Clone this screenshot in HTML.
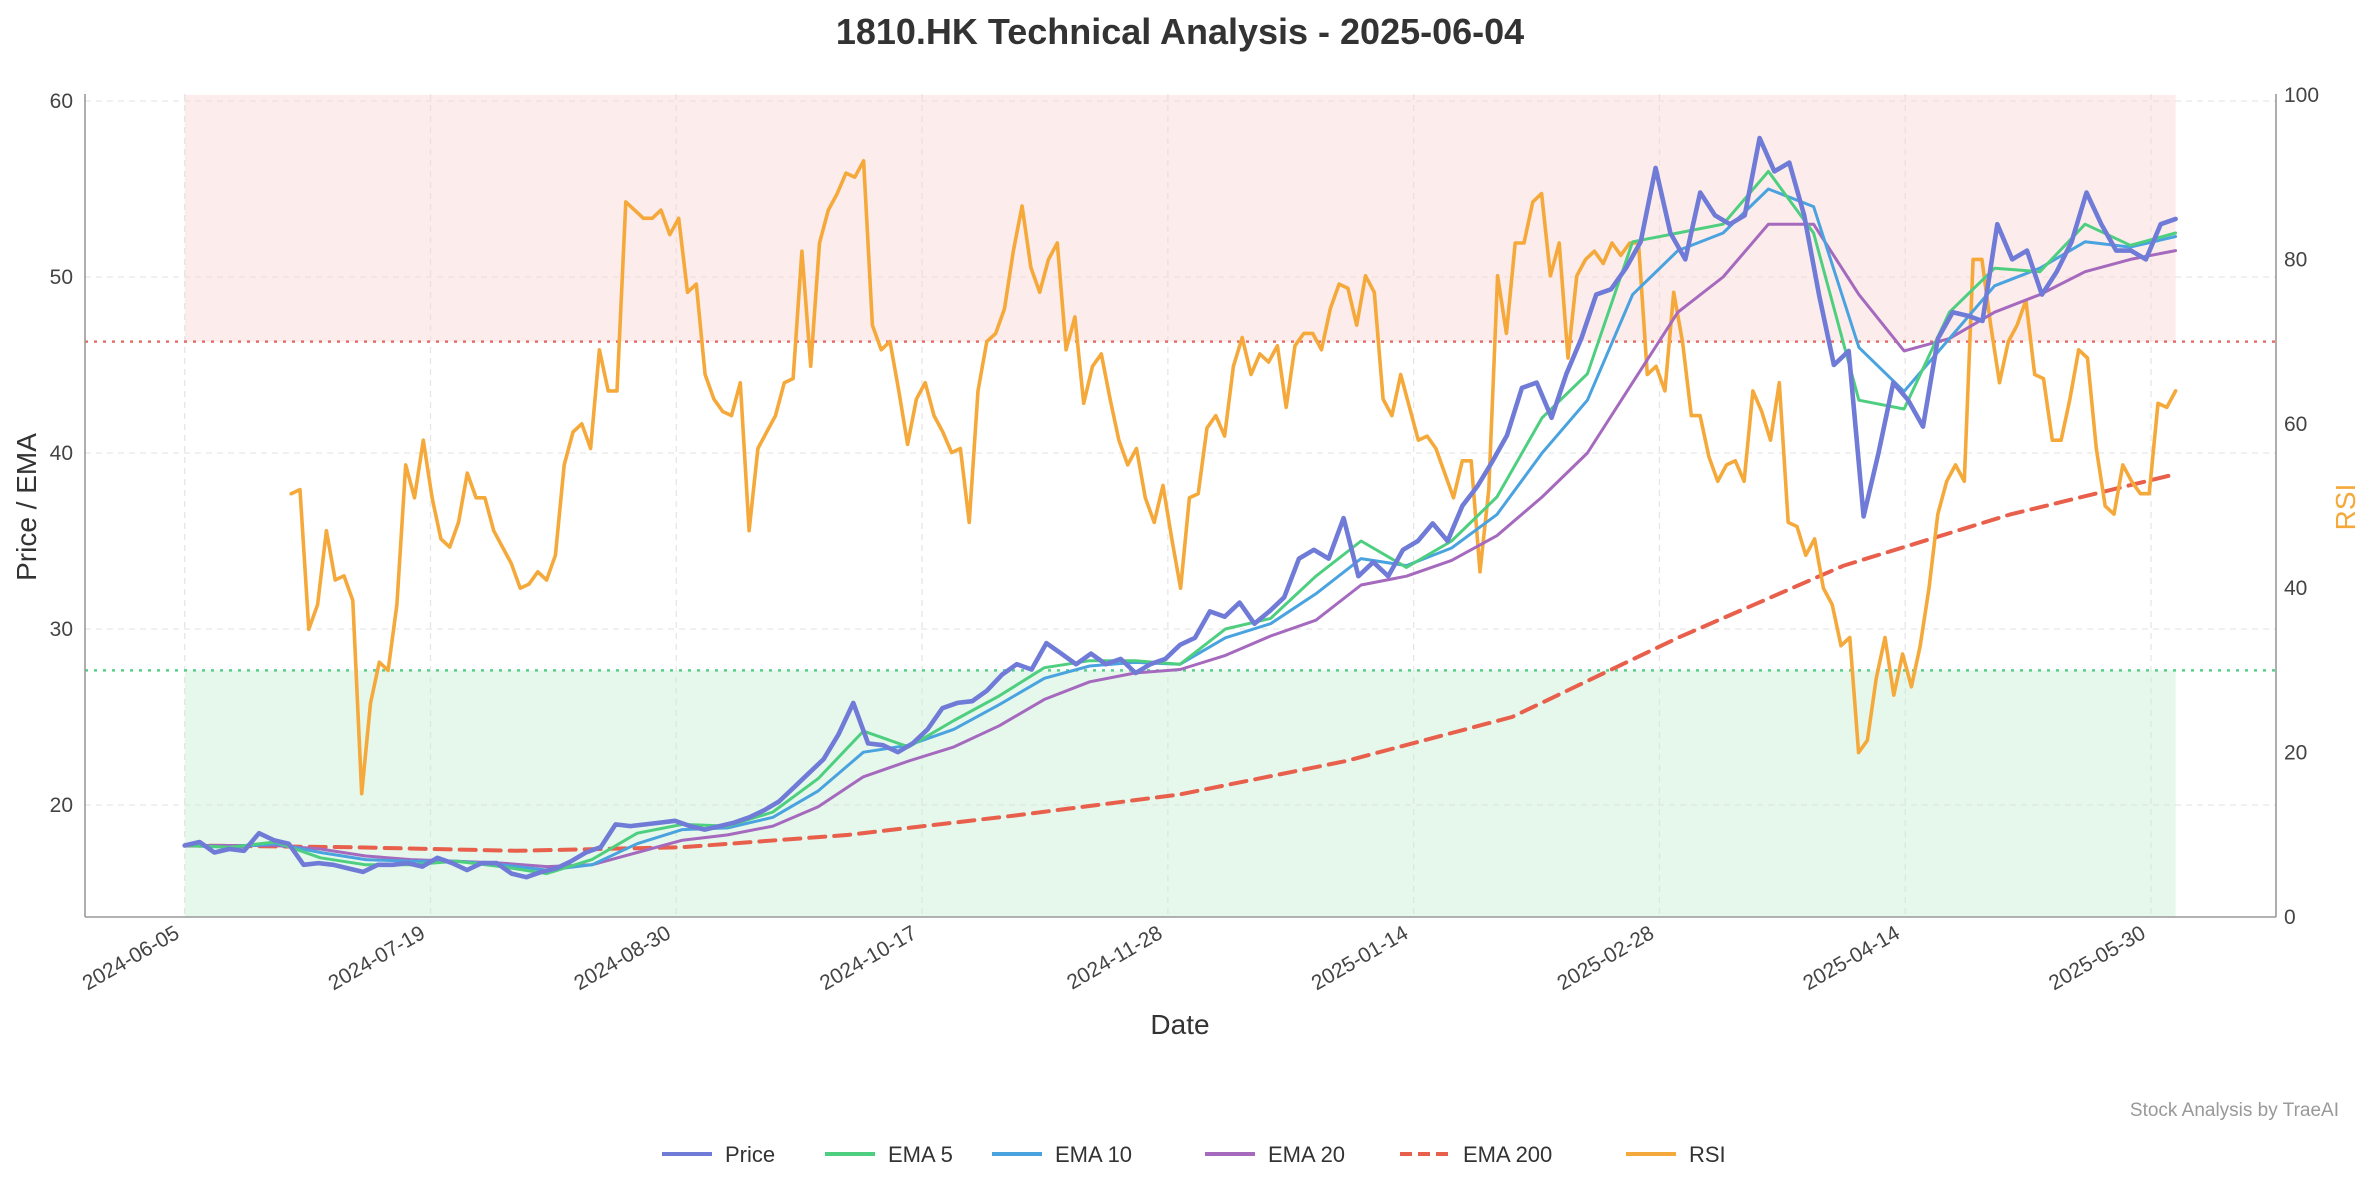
<!DOCTYPE html>
<html><head><meta charset="utf-8">
<style>
html,body{margin:0;padding:0;background:#fff;}
svg{display:block;font-family:"Liberation Sans","DejaVu Sans",sans-serif;}
</style></head>
<body>
<svg id="chart" width="2374" height="1191" viewBox="0 0 2374 1191" xmlns="http://www.w3.org/2000/svg">
<text x="1180" y="44" text-anchor="middle" font-size="36" font-weight="bold" fill="#333">1810.HK Technical Analysis - 2025-06-04</text>
<g id="grid"></g>
<g id="zones"></g>
<g id="series"></g>
<g id="axes"></g>
<text x="1180" y="1034" text-anchor="middle" font-size="28" fill="#333">Date</text>
<text transform="translate(36,507) rotate(-90)" text-anchor="middle" font-size="28" fill="#333">Price / EMA</text>
<text transform="translate(2355,507) rotate(-90)" text-anchor="middle" font-size="28" fill="#f5a93a">RSI</text>
<text x="2339" y="1116" text-anchor="end" font-size="19" fill="#999">Stock Analysis by TraeAI</text>
<g id="legend"></g>
</svg>
<script>
const tickDays = [0,30,60,90,120,150,180,210,240];
const tickLabels = ["2024-06-05","2024-07-19","2024-08-30","2024-10-17","2024-11-28","2025-01-14","2025-02-28","2025-04-14","2025-05-30"];
const priceTicks = [20,30,40,50,60];
const rsiTicks = [0,20,40,60,80,100];
const totalDays = 243;
const price = [17.7,17.9,17.3,17.5,17.4,18.4,18.0,17.8,16.6,16.7,
16.6,16.4,16.2,16.6,16.6,16.7,16.5,17.0,16.7,16.3,
16.7,16.7,16.1,15.9,16.2,16.4,16.8,17.3,17.6,18.9,
18.8,18.9,19.0,19.1,18.8,18.6,18.8,19.0,19.3,19.7,
20.2,21.0,21.8,22.6,24.0,25.8,23.5,23.4,23.0,23.5,
24.3,25.5,25.8,25.9,26.5,27.4,28.0,27.7,29.2,28.6,
28.0,28.6,28.0,28.3,27.5,28.0,28.3,29.1,29.5,31.0,
30.7,31.5,30.3,31.0,31.8,34.0,34.5,34.0,36.3,33.0,
33.8,33.0,34.5,35.0,36.0,35.0,37.0,38.1,39.5,41.0,
43.7,44.0,42.0,44.5,46.5,49.0,49.3,50.5,52.0,56.2,
52.5,51.0,54.8,53.5,53.0,53.5,57.9,56.0,56.5,53.5,
49.0,45.0,45.8,36.4,40.0,44.0,43.0,41.5,46.5,48.0,
47.8,47.5,53.0,51.0,51.5,49.0,50.3,52.0,54.8,53.0,
51.5,51.5,51.0,53.0,53.3];
const ema5 = [17.7,17.6,17.9,17.0,16.6,16.6,16.8,16.5,16.1,16.9,18.4,18.9,18.8,19.6,21.5,24.2,23.3,24.8,26.2,27.8,28.2,28.2,28.0,30.0,30.6,33.0,35.0,33.5,35.0,37.5,42.0,44.5,52.0,52.5,53.0,56.0,52.5,43.0,42.5,48.0,50.5,50.3,53.0,51.8,52.5];
const ema10 = [17.7,17.6,17.8,17.3,16.9,16.8,16.8,16.6,16.3,16.6,17.8,18.6,18.7,19.3,20.8,23.0,23.4,24.3,25.7,27.2,27.9,28.1,28.0,29.5,30.3,32.0,34.0,33.6,34.6,36.5,40.0,43.0,49.0,51.5,52.5,55.0,54.0,46.0,43.5,46.5,49.5,50.5,52.0,51.7,52.3];
const ema20 = [17.7,17.7,17.7,17.5,17.1,16.9,16.8,16.7,16.5,16.6,17.3,18.0,18.3,18.8,19.9,21.6,22.5,23.3,24.5,26.0,27.0,27.5,27.7,28.5,29.6,30.5,32.5,33.0,33.9,35.3,37.5,40.0,44.0,48.0,50.0,53.0,53.0,49.0,45.8,46.5,48.0,49.0,50.3,51.0,51.5];
const ema200 = [17.7,17.6,17.4,17.6,18.3,19.4,20.6,22.5,25.0,29.5,33.6,36.5,38.8];
const rsiStartDay = 13;
const rsi = [51.5,52,35,38,47,41,41.5,38.5,15,26,31,30,38,55,51,58,51,46,45,48,54,51,51,47,45,43,40,40.5,42,41,44,55,59,60,57,69,64,64,87,86,85,85,86,83,85,76,77,66,63,61.5,61,65,47,57,59,61,65,65.5,81,67,82,86,88,90.5,90,92,72,69,70,64,57.5,63,65,61,59,56.5,57,48,64,70,71,74,81,86.5,79,76,80,82,69,73,62.5,67,68.5,63,58,55,57,51,48,52.5,46,40,51,51.5,59.5,61,58.5,67,70.5,66,68.5,67.5,69.5,62,69.5,71,71,69,74,77,76.5,72,78,76,63,61,66,62,58,58.5,57,54,51,55.5,55.5,42,52,78,71,82,82,87,88,78,82,68,78,80,81,79.5,82,80.5,82,82,66,67,64,76,70,61,61,56,53,55,55.5,53,64,61.5,58,65,48,47.5,44,46,40,38,33,34,20,21.5,29,34,27,32,28,33,40,49,53,55,53,80,80,72,65,70,72,75,66,65.5,58,58,63,69,68,57,50,49,55,53,51.5,51.5,62.5,62,64];

const NS='http://www.w3.org/2000/svg';
const L=85,R=2276,T=94,B=917;
const X0=184.7,X1=2175.6;
function xDay(d){return X0+(X1-X0)*d/totalDays;}
function yPrice(v){return 101+(60-v)*17.6;}
function yRsi(r){return B-r*(B-95)/100;}
function mk(tag,attrs,parent){const e=document.createElementNS(NS,tag);for(const k in attrs)e.setAttribute(k,attrs[k]);parent.appendChild(e);return e;}
const grid=document.getElementById('grid'),zones=document.getElementById('zones'),series=document.getElementById('series'),axes=document.getElementById('axes'),legend=document.getElementById('legend');

tickDays.forEach(d=>{const g=mk('line',{x1:xDay(d),x2:xDay(d),y1:T,y2:B,stroke:'#e6e6e6','stroke-width':1.3,'stroke-dasharray':'6,5'},grid);

});
priceTicks.forEach(v=>{const g=mk('line',{x1:L,x2:R,y1:yPrice(v),y2:yPrice(v),stroke:'#e6e6e6','stroke-width':1.3,'stroke-dasharray':'6,5'},grid);

});

const ob=mk('rect',{x:X0,y:yRsi(100),width:X1-X0,height:yRsi(70)-yRsi(100),fill:'#f8d4d4','fill-opacity':0.45},zones);


const os=mk('rect',{x:X0,y:yRsi(30),width:X1-X0,height:yRsi(0)-yRsi(30),fill:'#c8eed5','fill-opacity':0.45},zones);


const obl=mk('line',{x1:L,x2:R,y1:yRsi(70),y2:yRsi(70),stroke:'#e8706a','stroke-width':2.5,'stroke-dasharray':'3,6'},zones);


const osl=mk('line',{x1:L,x2:R,y1:yRsi(30),y2:yRsi(30),stroke:'#58d08a','stroke-width':2.5,'stroke-dasharray':'3,6'},zones);



function drawSeries(arr,start,yf,color,w,dash,name){
  const step=(totalDays-start)/(arr.length-1);
  const pts=arr.map((v,i)=>xDay(start+i*step).toFixed(1)+','+yf(v).toFixed(1)).join(' ');
  const p=mk('polyline',{points:pts,fill:'none',stroke:color,'stroke-width':w,'stroke-linejoin':'round','stroke-linecap':'round'},series);
  if(dash)p.setAttribute('stroke-dasharray',dash);
  
  
}
drawSeries(ema200,0,yPrice,'#e8604c',4,'16,9','ema200-line');
drawSeries(rsi,rsiStartDay,yRsi,'#f5a93a',3.6,null,'rsi-line');
drawSeries(ema20,0,yPrice,'#a569bd',3,null,'ema20-line');
drawSeries(ema10,0,yPrice,'#4aa3df',3,null,'ema10-line');
drawSeries(ema5,0,yPrice,'#4ecf7f',3,null,'ema5-line');
drawSeries(price,0,yPrice,'#6f7bd6',4.6,null,'price-line');

[[L,T,L,B,'left-axis'],[L,B,R,B,'bottom-axis'],[R,T,R,B,'right-axis']].forEach(a=>{
  const l=mk('line',{x1:a[0],y1:a[1],x2:a[2],y2:a[3],stroke:'#999','stroke-width':1.6},axes);
  
  
});
priceTicks.forEach(v=>{
  const t=mk('text',{x:L-12,y:yPrice(v)+7,'text-anchor':'end','font-size':21,fill:'#444'},axes);
  t.textContent=v;
  
  
});
rsiTicks.forEach(v=>{
  const t=mk('text',{x:R+8,y:yRsi(v)+7,'text-anchor':'start','font-size':21,fill:'#444'},axes);
  t.textContent=v;
  
  
});
tickDays.forEach((d,i)=>{
  const x=xDay(d)-4,y=B+20;
  const t=mk('text',{x:x,y:y,'text-anchor':'end','font-size':21,fill:'#444',transform:'rotate(-30 '+x+' '+y+')'},axes);
  t.textContent=tickLabels[i];
  
  
});

const legItems=[['Price','#6f7bd6',null,662],['EMA 5','#4ecf7f',null,825],['EMA 10','#4aa3df',null,992],['EMA 20','#a569bd',null,1205],['EMA 200','#e8604c','12,6',1400],['RSI','#f5a93a',null,1626]];
legItems.forEach(it=>{
  const g=mk('g',{},legend);
  
  
  const l=mk('line',{x1:it[3],x2:it[3]+50,y1:1154,y2:1154,stroke:it[1],'stroke-width':4},g);
  if(it[2])l.setAttribute('stroke-dasharray',it[2]);
  const t=mk('text',{x:it[3]+63,y:1162,'font-size':22,fill:'#333'},g);
  t.textContent=it[0];
});
</script>
</body></html>
